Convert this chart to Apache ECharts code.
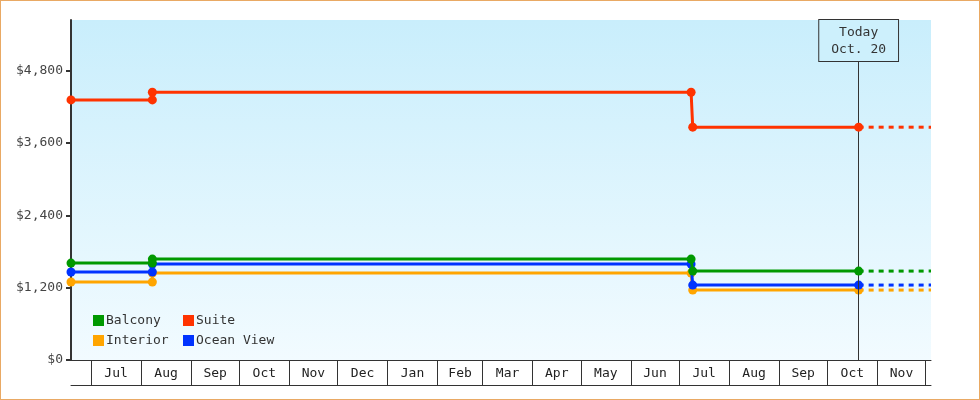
<!DOCTYPE html>
<html>
<head>
<meta charset="utf-8">
<script src="https://cdn.jsdelivr.net/npm/echarts@6/dist/echarts.min.js"></script>
<style>
html,body{margin:0;padding:0;background:#fff;}
#wrap{position:relative;width:980px;height:400px;}
#chart{width:980px;height:400px;}
#frame{position:absolute;left:0;top:0;width:980px;height:400px;box-sizing:border-box;border:1px solid #e9a964;pointer-events:none;}
</style>
</head>
<body>
<div id="wrap"><div id="chart"></div><div id="frame"></div></div>
<script>
// ---- data ----
const seriesNames = ['Interior', 'Ocean View', 'Balcony', 'Suite'];
const seriesColors = ['#ffa500', '#0033ff', '#009900', '#ff3300'];
const dates = ['2022-06-18 12:00', '2022-08-08 00:00', '2022-08-08 00:00', '2023-07-08 10:00', '2023-07-09 10:00', '2023-10-20 10:00'];
const interior  = [1293, 1293, 1442, 1442, 1160, 1160];
const oceanView = [1459, 1459, 1591, 1591, 1243, 1243];
const balcony   = [1608, 1608, 1674, 1674, 1475, 1475];
const suite     = [4314, 4314, 4442, 4442, 3862, 3862];
const todayDate = '2023-10-20 10:00';
const todayLabel = 'Today\nOct. 20';
const axisStart = '2022-06-18 12:00';
const axisEnd = '2023-12-04 08:00';
const monthStarts = ['2022-07-01','2022-08-01','2022-09-01','2022-10-01','2022-11-01','2022-12-01',
  '2023-01-01','2023-02-01','2023-03-01','2023-04-01','2023-05-01','2023-06-01','2023-07-01',
  '2023-08-01','2023-09-01','2023-10-01','2023-11-01','2023-12-01'];
const monthLabels = ['Jul','Aug','Sep','Oct','Nov','Dec','Jan','Feb','Mar','Apr','May','Jun','Jul','Aug','Sep','Oct','Nov'];
const yTicks = [0, 1200, 2400, 3600, 4800];
const yMax = 5640;
const todayLineTop = 4960;

// ---- build ----
const values = [interior, oceanView, balcony, suite];
const ts = s => new Date(s.replace(' ', 'T')).getTime();
const tickVals = monthStarts.map(s => ts(s + ' 00:00'));
const labelVals = monthLabels.map((m, i) => (tickVals[i] + tickVals[i + 1]) / 2);
const labelFor = v => {
  const i = labelVals.findIndex(x => Math.abs(x - v) < 3600000);
  return i >= 0 ? monthLabels[i] : '';
};

const font = 'DejaVu Sans Mono';
const series = [];
values.forEach((vals, k) => {
  series.push({
    name: seriesNames[k], type: 'line',
    data: dates.map((d, i) => [ts(d), vals[i]]),
    symbol: 'circle', symbolSize: 9, showSymbol: true, showAllSymbol: true,
    itemStyle: { color: seriesColors[k] },
    lineStyle: { color: seriesColors[k], width: 3 },
    z: 3 + k
  });
  series.push({
    name: seriesNames[k], type: 'line',
    data: [[ts(todayDate), vals[vals.length - 1]], [ts(axisEnd), vals[vals.length - 1]]],
    symbol: 'none',
    itemStyle: { color: seriesColors[k] },
    lineStyle: { color: seriesColors[k], width: 3, type: [5, 5] },
    z: 2
  });
});
series.push({
  type: 'line', data: [], z: 1,
  markLine: {
    silent: true, symbol: 'none', animation: false,
    lineStyle: { color: '#333', width: 1, type: 'solid' },
    label: {
      show: true, position: 'end', distance: 0,
      formatter: todayLabel,
      fontFamily: font, fontSize: 13, color: '#333', lineHeight: 17,
      backgroundColor: '#cdf0fc', borderColor: '#333', borderWidth: 1,
      padding: [4, 12, 3, 12]
    },
    data: [[{ coord: [ts(todayDate), 0] }, { coord: [ts(todayDate), todayLineTop] }]]
  }
});

const legendCommon = {
  orient: 'vertical', icon: 'rect', itemWidth: 11, itemHeight: 11, itemGap: 7, padding: 0,
  textStyle: { fontFamily: font, fontSize: 13, color: '#333', padding: [0, 0, 0, -3] },
  selectedMode: false
};

const chart = echarts.init(document.getElementById('chart'), null, { renderer: 'canvas' });
chart.setOption({
  animation: false,
  textStyle: { fontFamily: font },
  grid: {
    left: 71, right: 49, top: 20, bottom: 40, show: true, borderWidth: 0,
    backgroundColor: { type: 'linear', x: 0, y: 0, x2: 0, y2: 1,
      colorStops: [{ offset: 0, color: '#c9eefc' }, { offset: 1, color: '#f2fbff' }] }
  },
  legend: [
    Object.assign({ data: ['Balcony', 'Interior'], left: 93, top: 314 }, legendCommon),
    Object.assign({ data: ['Suite', 'Ocean View'], left: 183, top: 314 }, legendCommon)
  ],
  xAxis: [{
    type: 'value', min: ts(axisStart), max: ts(axisEnd),
    axisLine: { show: true, lineStyle: { color: '#333', width: 1 } },
    axisTick: { show: true, length: 25, customValues: tickVals, lineStyle: { color: '#333', width: 1 } },
    axisLabel: {
      customValues: labelVals, margin: 7, color: '#222', fontFamily: font, fontSize: 13,
      formatter: labelFor
    },
    splitLine: { show: false }
  }, {
    type: 'value', min: ts(axisStart), max: ts(axisEnd), position: 'bottom', offset: 25,
    axisLine: { show: true, lineStyle: { color: '#333', width: 1 } },
    axisTick: { show: false }, axisLabel: { show: false }, splitLine: { show: false }
  }],
  yAxis: {
    type: 'value', min: 0, max: yMax, interval: 1200,
    axisLine: { show: true, lineStyle: { color: '#333', width: 2 } },
    axisTick: { show: true, length: 5, customValues: yTicks, lineStyle: { color: '#333', width: 2 } },
    axisLabel: {
      customValues: yTicks, margin: 8, color: '#444', fontFamily: font, fontSize: 13,
      formatter: v => '$' + v.toLocaleString('en-US')
    },
    splitLine: { show: false }
  },
  series: series
});
</script>
</body>
</html>
